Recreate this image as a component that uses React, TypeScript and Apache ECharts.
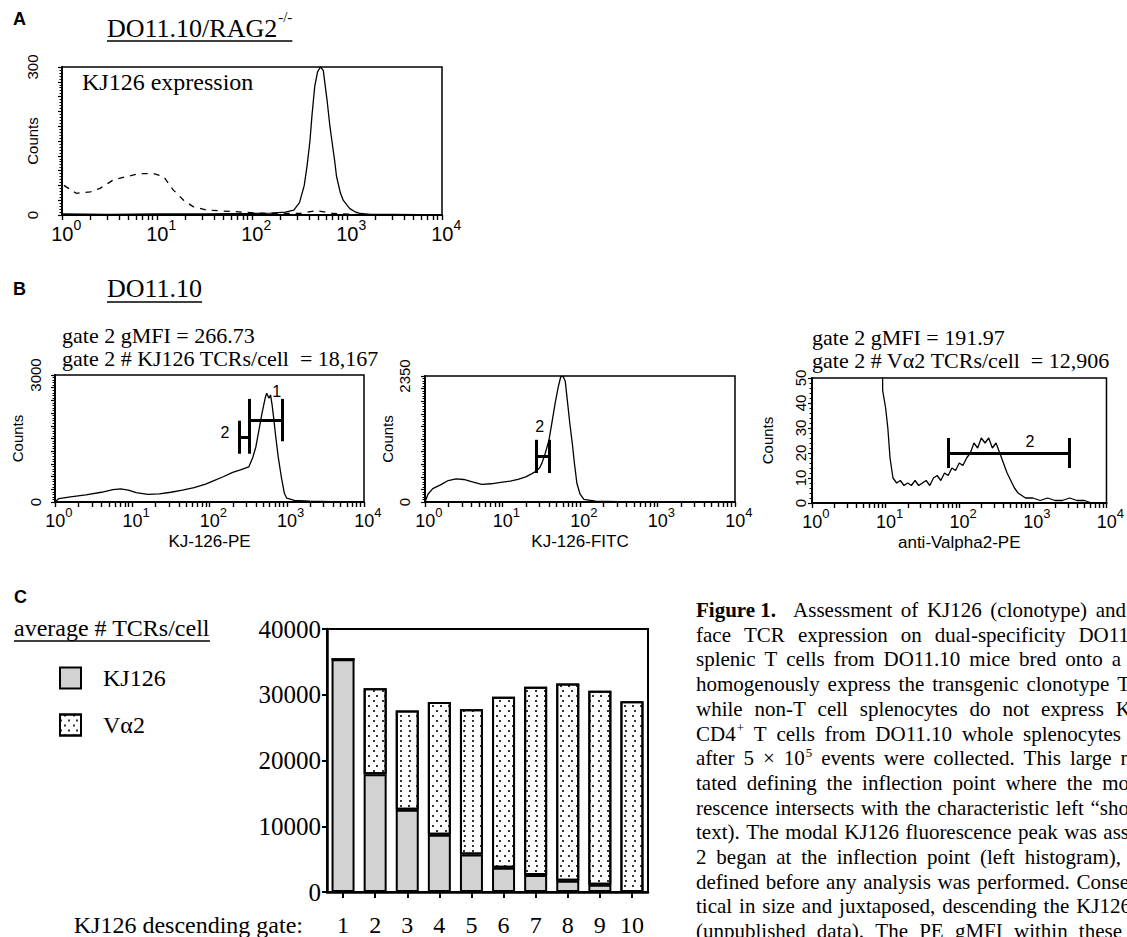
import React, { useEffect, useRef } from 'react';
import * as echarts from 'echarts';

const W = 1127;
const H = 937;
const SERIF = '"Liberation Serif", "Times New Roman", Times, serif';
const SANS = '"Liberation Sans", Arial, Helvetica, sans-serif';

// ---------------- DATA ----------------
// x values are log10(fluorescence); decade labels 10^0 .. 10^4
const decades = [0, 1, 2, 3, 4];

// Panel A: DO11.10/RAG2-/- KJ126 expression
const ragSolidLog = [0, 0.5, 1.0, 1.5, 2.0, 2.2, 2.35, 2.44, 2.5, 2.55, 2.58, 2.61, 2.63, 2.66, 2.69, 2.72, 2.75, 2.79, 2.82, 2.84, 2.87, 2.89, 2.93, 2.96, 3.0, 3.03, 3.08, 3.14, 3.25, 3.5, 4.0];
const ragSolidCounts = [2, 1, 2, 2, 3, 4, 6, 10, 25, 60, 100, 150, 199, 260, 290, 300, 293, 233, 180, 152, 110, 78, 45, 30, 20, 13, 7, 3, 1, 1, 0];
const ragDashedLog = [0.02, 0.15, 0.3, 0.4, 0.54, 0.68, 0.82, 0.96, 1.07, 1.17, 1.28, 1.38, 1.52, 1.8, 2.15, 2.5, 2.68, 2.86, 3.2, 4.0];
const ragDashedCounts = [60, 44, 47, 54, 71, 78, 84, 84, 78, 51, 30, 17, 10, 7, 3, 3, 9, 3, 0, 0];

// Panel B left: KJ-126-PE
const kjPeLog = [0, 0.05, 0.2, 0.4, 0.6, 0.75, 0.85, 0.95, 1.05, 1.2, 1.35, 1.5, 1.65, 1.8, 1.95, 2.05, 2.17, 2.3, 2.4, 2.51, 2.56, 2.6, 2.64, 2.68, 2.72, 2.74, 2.77, 2.79, 2.81, 2.83, 2.86, 2.89, 2.93, 2.97, 3.0, 3.1, 3.3, 3.6, 4.0];
const kjPeCounts = [0, 80, 120, 170, 230, 290, 310, 280, 220, 180, 190, 230, 280, 340, 420, 500, 590, 700, 760, 830, 1050, 1300, 1700, 2100, 2450, 2570, 2450, 2530, 2300, 2000, 1500, 1060, 590, 200, 90, 40, 20, 10, 0];

// Panel B middle: KJ-126-FITC
const kjFitcLog = [0, 0.04, 0.1, 0.2, 0.3, 0.4, 0.5, 0.6, 0.73, 0.85, 1.0, 1.1, 1.2, 1.3, 1.38, 1.43, 1.48, 1.51, 1.55, 1.6, 1.64, 1.68, 1.72, 1.75, 1.78, 1.81, 1.84, 1.87, 1.9, 1.93, 1.96, 2.0, 2.05, 2.2, 2.5, 3.0, 4.0];
const kjFitcCounts = [0, 150, 250, 320, 400, 430, 420, 380, 330, 340, 370, 390, 420, 470, 530, 570, 640, 730, 900, 1160, 1500, 1850, 2150, 2330, 2350, 2250, 1850, 1450, 1100, 700, 350, 150, 50, 15, 5, 2, 0];

// Panel B right: anti-Valpha2-PE (values above 50 run off the top of the plot)
const va2PeLog = [0, 0.5, 0.93, 0.96, 1.0, 1.03, 1.06, 1.1, 1.15, 1.2, 1.25, 1.3, 1.35, 1.4, 1.45, 1.5, 1.55, 1.6, 1.65, 1.7, 1.75, 1.8, 1.85, 1.9, 1.95, 2.0, 2.05, 2.1, 2.15, 2.2, 2.25, 2.3, 2.35, 2.4, 2.45, 2.5, 2.55, 2.6, 2.65, 2.7, 2.75, 2.8, 2.85, 2.9, 3.0, 3.1, 3.2, 3.3, 3.4, 3.5, 3.6, 3.7, 3.8, 4.0];
const va2PeCounts = [200, 200, 180, 45, 38, 30, 18, 10, 8, 9, 7, 8, 7, 9, 7, 8, 9, 7, 10, 11, 9, 12, 11, 14, 13, 16, 15, 18, 20, 24, 22, 26, 24, 26, 22, 24, 20, 16, 12, 9, 6, 4, 3, 2, 2, 1, 2, 1, 1, 2, 1, 1, 0, 0];

// Gates: [fromLog, toLog, count level, half height of end caps]
const kjPeGate1 = [2.52, 2.94, 1935, 500];
const kjPeGate2 = [2.38, 2.52, 1530, 390];
const kjFitcGate2 = [1.43, 1.6, 850, 310];
const va2PeGate2 = [1.85, 3.5, 20, 6];
// Gate labels: [log, count, text]
const kjPeGateLabels: [number, number, string][] = [[2.87, 2620, '1'], [2.2, 1630, '2']];
const kjFitcGateLabels: [number, number, string][] = [[1.48, 1400, '2']];
const va2PeGateLabels: [number, number, string][] = [[2.96, 24.5, '2']];

// Panel C: average # TCRs/cell per KJ126 descending gate
const gates = ['1', '2', '3', '4', '5', '6', '7', '8', '9', '10'];
const kj126Tcrs = [35400, 17900, 12500, 8700, 5700, 3700, 2600, 1700, 1100, 0];
const va2Tcrs = [0, 13100, 15100, 20200, 22100, 26000, 28600, 30000, 29500, 29000];

const captionLines = [
  'Assessment of KJ126 (clonotype) and',
  'face TCR expression on dual-specificity DO11',
  'splenic T cells from DO11.10 mice bred onto a',
  'homogenously express the transgenic clonotype T',
  'while non-T cell splenocytes do not express K',
  'CD4^+ T cells from DO11.10 whole splenocytes',
  'after 5 \u00d7 10^5 events were collected. This large n',
  'tated defining the inflection point where the mo',
  'rescence intersects with the characteristic left \u201csho',
  'text). The modal KJ126 fluorescence peak was ass',
  '2 began at the inflection point (left histogram),',
  'defined before any analysis was performed. Conse',
  'tical in size and juxtaposed, descending the KJ126',
  '(unpublished data). The PE gMFI within these',
];
// layout: right edge each justified line reaches (px)
const captionEnds = [1126, 1129, 1121, 1130, 1131, 1121, 1131, 1129, 1129, 1129, 1121, 1129, 1131, 1122];

// ---------------- HELPERS ----------------
const pairs = (xs: number[], ys: number[]) => xs.map((x, i) => [x, ys[i]]);

const tickVals: number[] = [];
for (let d = 0; d < 4; d++) for (let k = 1; k <= 9; k++) tickVals.push(d + Math.log10(k));
tickVals.push(4);

let mctx: CanvasRenderingContext2D | null = null;
function measure(text: string, size: number, family = SERIF, weight = 'normal') {
  if (!mctx) mctx = document.createElement('canvas').getContext('2d');
  if (!mctx) return text.length * size * 0.45;
  mctx.font = `${weight} ${size}px ${family}`;
  return mctx.measureText(text).width;
}

function T(text: string, x: number, y: number, size: number, o: any = {}) {
  const align = o.align || 'left';
  return {
    type: 'text',
    x,
    y,
    silent: true,
    z: 10,
    style: {
      text,
      fill: '#000',
      fontSize: size,
      fontFamily: o.family || SERIF,
      fontWeight: o.weight || 'normal',
      textAlign: align,
      align,
      textVerticalAlign: 'middle',
      verticalAlign: 'middle',
    },
  };
}

function uline(x1: number, x2: number, y: number) {
  return { type: 'line', silent: true, z: 10, shape: { x1, y1: y, x2, y2: y }, style: { stroke: '#000', lineWidth: 1.3 } };
}

function logXAxis(gridIndex: number, name: string, base: number, sup: number, margin: number, nameGap: number) {
  const supW = sup * 0.6;
  return {
    type: 'value',
    gridIndex,
    min: 0,
    max: 4,
    interval: 1,
    axisLine: { show: true, onZero: false, lineStyle: { color: '#000', width: 2 } },
    axisTick: { show: true, customValues: tickVals, length: 5, lineStyle: { color: '#000', width: 1.4 } },
    axisLabel: {
      show: true,
      customValues: decades,
      margin,
      formatter: (v: number) => `{p| }{b|10}{s|${Math.round(v)}}`,
      rich: {
        p: { width: supW, fontSize: sup },
        b: { fontSize: base, fontFamily: SANS, color: '#000', lineHeight: base + 6, verticalAlign: 'bottom' },
        s: { fontSize: sup, fontFamily: SANS, color: '#000', lineHeight: sup, verticalAlign: 'top' },
      },
    },
    splitLine: { show: false },
    name,
    nameLocation: 'middle',
    nameGap,
    nameTextStyle: { fontFamily: SANS, fontSize: 17, color: '#000' },
  };
}

function countsYAxis(gridIndex: number, max: number, interval: number, labels: number[], margin: number, nameGap: number) {
  return {
    type: 'value',
    gridIndex,
    min: 0,
    max,
    interval,
    axisLine: { show: true, onZero: false, lineStyle: { color: '#000', width: 2 } },
    axisTick: { show: true, length: 4, lineStyle: { color: '#000', width: 1.2 } },
    minorTick: { show: true, splitNumber: 5, length: 2.5, lineStyle: { color: '#000', width: 1 } },
    axisLabel: {
      show: true,
      rotate: 90,
      margin,
      showMinLabel: true,
      showMaxLabel: true,
      fontFamily: SANS,
      fontSize: 15,
      color: '#000',
      formatter: (v: number) => (labels.some((l) => Math.abs(l - v) < 1e-6) ? String(Math.round(v)) : ''),
    },
    splitLine: { show: false },
    minorSplitLine: { show: false },
    name: 'Counts',
    nameLocation: 'middle',
    nameGap,
    nameMoveOverlap: false,
    nameTextStyle: { fontFamily: SANS, fontSize: 15, color: '#000' },
  };
}

function gateLines(g: number[]) {
  const [x1, x2, y, h] = g;
  return [
    [{ coord: [x1, y - h] }, { coord: [x1, y + h] }],
    [{ coord: [x1, y] }, { coord: [x2, y] }],
    [{ coord: [x2, y - h] }, { coord: [x2, y + h] }],
  ];
}

function histSeries(name: string, idx: number, xs: number[], ys: number[], gatesList: number[][], labels: [number, number, string][], dashed = false) {
  const s: any = {
    name,
    type: 'line',
    xAxisIndex: idx,
    yAxisIndex: idx,
    data: pairs(xs, ys),
    symbol: 'none',
    showSymbol: false,
    silent: true,
    clip: true,
    lineStyle: { color: '#000', width: 1.3, type: dashed ? [6, 6] : 'solid' },
  };
  if (gatesList.length) {
    s.markLine = {
      silent: true,
      symbol: ['none', 'none'],
      label: { show: false },
      lineStyle: { color: '#000', width: 3, type: 'solid' },
      emphasis: { disabled: true },
      data: gatesList.flatMap((g) => gateLines(g)),
    };
  }
  if (labels.length) {
    s.markPoint = {
      silent: true,
      symbol: 'circle',
      symbolSize: 1,
      itemStyle: { color: 'rgba(0,0,0,0)' },
      label: { show: true, position: 'inside', formatter: '{b}', fontFamily: SANS, fontSize: 16, color: '#000' },
      data: labels.map(([x, y, t]) => ({ name: t, coord: [x, y] })),
    };
  }
  return s;
}

function supText(base: string, sup: string, x: number, y: number, size: number, supSize: number, dy: number, family = SERIF) {
  const w = measure(base, size, family);
  const ws = measure(sup, supSize, family);
  return { els: [T(base, x, y, size, { family }), T(sup, x + w + 1, y - dy, supSize, { family })], width: w + ws + 1 };
}

function buildCaption() {
  const els: any[] = [];
  const size = 21;
  const supSize = 13;
  const lineY0 = 610;
  const step = 24.7;
  const fig = 'Figure 1.';
  els.push(T(fig, 696, lineY0, size, { weight: 'bold' }));
  const figEnd = 696 + measure(fig, size, SERIF, 'bold');
  const spaceW = measure(' ', size);
  captionLines.forEach((line, i) => {
    const y = lineY0 + i * step;
    const startX = i === 0 ? Math.max(773, figEnd + 17) : 696;
    const words = line.split(' ');
    const widths = words.map((w) => {
      if (w.includes('^')) {
        const [b, s] = w.split('^');
        return measure(b, size) + 1 + measure(s, supSize);
      }
      return measure(w, size);
    });
    const total = widths.reduce((a, b) => a + b, 0);
    let gap = words.length > 1 ? (captionEnds[i] - startX - total) / (words.length - 1) : spaceW;
    if (gap < spaceW * 0.7) gap = spaceW * 0.7;
    let x = startX;
    words.forEach((w, j) => {
      if (w.includes('^')) {
        const [b, s] = w.split('^');
        const r = supText(b, s, x, y, size, supSize, 6);
        els.push(...r.els);
      } else {
        els.push(T(w, x, y, size));
      }
      x += widths[j] + gap;
    });
  });
  return els;
}

function buildGraphics() {
  const els: any[] = [];
  // Panel A
  els.push(T('A', 13, 19, 18, { family: SANS, weight: 'bold' }));
  const ta = supText('DO11.10/RAG2', '-/-', 107, 28, 26, 15, 11);
  els.push(...ta.els, uline(107, 107 + ta.width, 41));
  els.push(T('KJ126 expression', 82, 82, 24));
  // Panel B
  els.push(T('B', 13, 289, 18, { family: SANS, weight: 'bold' }));
  const wb = measure('DO11.10', 26);
  els.push(T('DO11.10', 107, 288, 26), uline(107, 107 + wb, 302));
  els.push(T('gate 2 gMFI = 266.73', 62, 335, 22));
  els.push(T('gate 2 # KJ126 TCRs/cell\u00a0\u00a0= 18,167', 62, 358, 22));
  els.push(T('gate 2 gMFI = 191.97', 812, 337, 22));
  els.push(T('gate 2 # V\u03b12 TCRs/cell\u00a0\u00a0= 12,906', 812, 360, 22));
  // Panel C
  els.push(T('C', 14, 597, 18, { family: SANS, weight: 'bold' }));
  const wc = measure('average # TCRs/cell', 24);
  els.push(T('average # TCRs/cell', 14, 628, 24), uline(14, 14 + wc, 641));
  els.push(T('KJ126 descending gate:', 303, 925, 24, { align: 'right' }));
  els.push(...buildCaption());
  return els;
}

function buildOption(): any {
  const grids = [
    { left: 62, top: 67, width: 380, height: 148 },
    { left: 55, top: 375, width: 309, height: 127 },
    { left: 425, top: 376, width: 310, height: 126 },
    { left: 812, top: 378, width: 305, height: 125 },
    { left: 327, top: 629, width: 321, height: 263 },
  ].map((g, i) => ({
    ...g,
    show: true,
    borderColor: '#000',
    borderWidth: i === 4 ? 2 : 1.5,
    backgroundColor: 'rgba(0,0,0,0)',
    containLabel: false,
  }));

  const xAxes: any[] = [
    logXAxis(0, '', 20, 14, 3, 30),
    logXAxis(1, 'KJ-126-PE', 18, 13, 4, 31),
    logXAxis(2, 'KJ-126-FITC', 18, 13, 4, 31),
    logXAxis(3, 'anti-Valpha2-PE', 18, 13, 4, 31),
    {
      type: 'category',
      gridIndex: 4,
      data: gates,
      boundaryGap: true,
      axisLine: { show: true, lineStyle: { color: '#000', width: 2.5 } },
      axisTick: { show: true, alignWithLabel: true, length: 6, lineStyle: { color: '#000', width: 2 } },
      axisLabel: { show: true, margin: 21, fontFamily: SERIF, fontSize: 24, color: '#000', interval: 0 },
      splitLine: { show: false },
    },
  ];
  const yAxes: any[] = [
    countsYAxis(0, 300, 30, [0, 300], 22, 22),
    countsYAxis(1, 3000, 300, [0, 3000], 12, 30),
    countsYAxis(2, 2350, 235, [0, 2350], 13, 30),
    countsYAxis(3, 50, 10, [0, 10, 20, 30, 40, 50], 4, 37),
    {
      type: 'value',
      gridIndex: 4,
      min: 0,
      max: 40000,
      interval: 10000,
      axisLine: { show: true, lineStyle: { color: '#000', width: 2.5 } },
      axisTick: { show: true, length: 5, lineStyle: { color: '#000', width: 2 } },
      axisLabel: { show: true, margin: 6, fontFamily: SERIF, fontSize: 25, color: '#000', formatter: (v: number) => String(v) },
      splitLine: { show: false },
    },
  ];

  const dotDecal = {
    symbol: 'rect',
    symbolSize: 1,
    color: 'rgba(0,0,0,0.8)',
    dashArrayX: [[1.2, 5.8], [0, 3.5, 1.2, 2.3]],
    dashArrayY: [1.2, 2.3],
    rotation: 0,
  };

  const series: any[] = [
    histSeries('RAG solid', 0, ragSolidLog, ragSolidCounts, [], []),
    histSeries('RAG dashed', 0, ragDashedLog, ragDashedCounts, [], [], true),
    histSeries('KJ-126-PE', 1, kjPeLog, kjPeCounts, [kjPeGate1, kjPeGate2], kjPeGateLabels),
    histSeries('KJ-126-FITC', 2, kjFitcLog, kjFitcCounts, [kjFitcGate2], kjFitcGateLabels),
    histSeries('anti-Valpha2-PE', 3, va2PeLog, va2PeCounts, [va2PeGate2], va2PeGateLabels),
    {
      name: 'KJ126',
      type: 'bar',
      xAxisIndex: 4,
      yAxisIndex: 4,
      stack: 'tcr',
      barWidth: 23,
      data: kj126Tcrs,
      silent: true,
      itemStyle: { color: '#d2d2d2', borderColor: '#000', borderWidth: 2 },
    },
    {
      name: 'V\u03b12',
      type: 'bar',
      xAxisIndex: 4,
      yAxisIndex: 4,
      stack: 'tcr',
      barWidth: 23,
      data: va2Tcrs,
      silent: true,
      itemStyle: { color: '#ffffff', borderColor: '#000', borderWidth: 2, decal: dotDecal },
    },
  ];

  return {
    animation: false,
    backgroundColor: '#ffffff',
    grid: grids,
    xAxis: xAxes,
    yAxis: yAxes,
    legend: {
      data: ['KJ126', 'V\u03b12'],
      orient: 'vertical',
      left: 54,
      top: 661,
      itemWidth: 21,
      itemHeight: 21,
      itemGap: 23,
      icon: 'rect',
      selectedMode: false,
      textStyle: { fontFamily: SERIF, fontSize: 24, color: '#000', padding: [0, 0, 0, 17] },
    },
    series,
    graphic: buildGraphics(),
  };
}

export default function App() {
  const ref = useRef<HTMLDivElement>(null);
  useEffect(() => {
    if (!ref.current) return;
    const chart = echarts.init(ref.current, null, { renderer: 'svg', width: W, height: H });
    chart.setOption(buildOption());
    return () => chart.dispose();
  }, []);
  return (
    <div
      ref={ref}
      style={{ position: 'absolute', left: 0, top: 0, width: W, height: H, background: '#fff', overflow: 'hidden' }}
    />
  );
}
